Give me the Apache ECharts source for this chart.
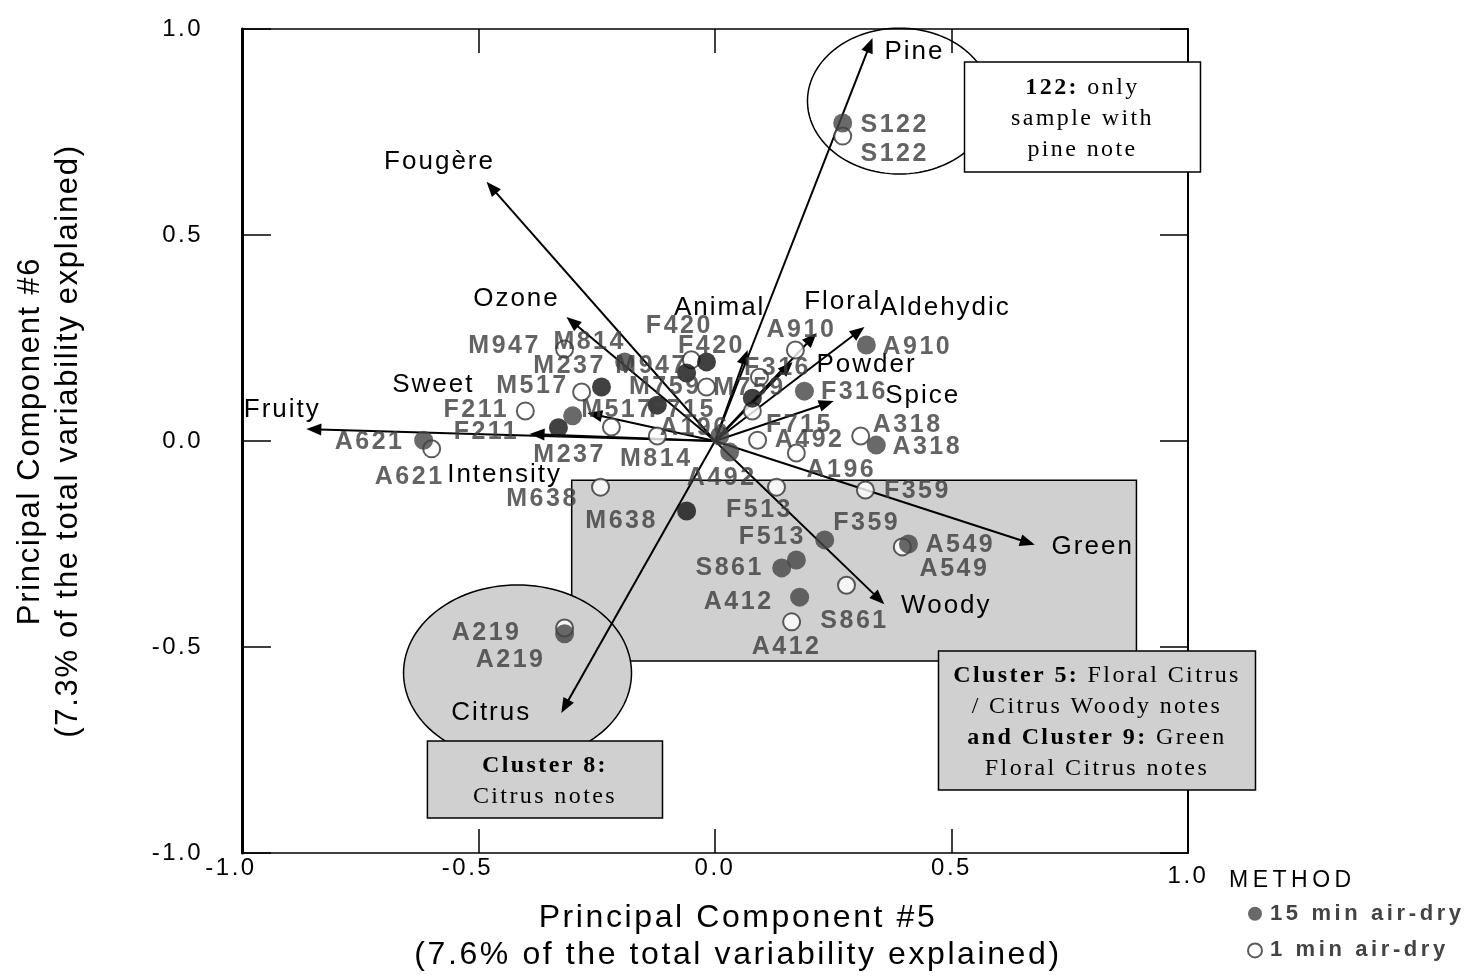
<!DOCTYPE html>
<html>
<head>
<meta charset="utf-8">
<title>PCA biplot – components 5 and 6</title>
<script src="https://cdn.jsdelivr.net/npm/echarts@6/dist/echarts.min.js"></script>
<style>
  html, body { margin: 0; padding: 0; background: #ffffff; }
  #chart { width: 1471px; height: 977px; }
</style>
</head>
<body>
<div id="chart"></div>
<script>
// ---------------------------------------------------------------
// Sample scores on principal components 5 and 6
// ---------------------------------------------------------------
const sampleIds = ['S122', 'A910', 'F316', 'A318', 'A621', 'M814', 'F420', 'M947', 'M517', 'M759', 'F715',
                   'M237', 'F211', 'A196', 'A492', 'M638', 'F359', 'F513', 'S861', 'A412', 'A549', 'A219'];

// 15 min air-dry
const pc5Dry15 = [0.270, 0.320, 0.189, 0.341, -0.616, -0.191, -0.018, -0.060, -0.240, -0.122, 0.079,
                  -0.301, -0.331, 0.010, 0.031, -0.060, 0.232, 0.172, 0.141, 0.179, 0.409, -0.318];
const pc6Dry15 = [0.772, 0.233, 0.121, -0.010, 0.002, 0.192, 0.192, 0.165, 0.131, 0.087, 0.104,
                  0.061, 0.032, 0.012, -0.027, -0.170, -0.240, -0.289, -0.308, -0.379, -0.250, -0.468];

// 1 min air-dry
const pc5Dry1 = [0.270, 0.170, 0.094, 0.308, -0.599, -0.122, -0.050, -0.318, -0.219, -0.018, 0.079,
                 -0.282, -0.401, 0.172, 0.090, -0.242, 0.318, 0.130, 0.278, 0.162, 0.396, -0.318];
const pc6Dry1 = [0.740, 0.221, 0.155, 0.012, -0.019, 0.012, 0.197, 0.223, 0.034, 0.131, 0.073,
                 0.119, 0.073, -0.029, 0.002, -0.112, -0.119, -0.112, -0.350, -0.439, -0.257, -0.454];

// Samples whose 15 min marker is printed in black
const blackFilled = ['F420', 'M947', 'M517', 'M759', 'F715', 'F211', 'M638'];

// Sensory attribute loadings (vectors drawn from the origin)
const attributeNames = ['Pine', 'Fougère', 'Ozone', 'Animal', 'Floral', 'Aldehydic', 'Powder',
                        'Spice', 'Fruity', 'Sweet', 'Intensity', 'Green', 'Woody', 'Citrus'];
const attributePC5 = [0.333, -0.483, -0.314, 0.069, 0.215, 0.316, 0.164, 0.251, -0.864, -0.270, -0.392, 0.676, 0.358, -0.325];
const attributePC6 = [0.978, 0.629, 0.301, 0.221, 0.262, 0.277, 0.192, 0.097, 0.029, 0.068, 0.017, -0.252, -0.396, -0.660];

// Axis ticks
const axisTicks = [-1.0, -0.5, 0.0, 0.5, 1.0];

// Series / legend names
const methodNames = ['15 min air-dry', '1 min air-dry'];

// ---------------------------------------------------------------
// Layout: label offsets (pixels, text centre relative to the mark)
// ---------------------------------------------------------------
const labelOffset15 = {
  S122: [52, 2], A910: [51, 2], F316: [50, 1], A318: [51, 2], A621: [-54, 2], M814: [-35, -20],
  F420: [5, -16], M947: [-35, -7], M517: [-69, -1], M759: [8, -18], F715: [-70, 12], M237: [-3, 39],
  F211: [-72, 4], A196: [-25, -8], A492: [-8, 26], M638: [-65, 10], F359: [42, -17], F513: [-24, -23],
  S861: [-52, 0], A412: [-61, 5], A549: [46, 25], A219: [-54, 26]
};
const labelOffset1 = {
  S122: [52, 18], A910: [6, -20], F316: [18, -9], A318: [47, -11], A621: [-22, 28], M814: [-1, 23],
  F420: [-12, -34], M947: [-60, -3], M517: [6, -17], M759: [43, 1], F715: [47, 14], M237: [-12, -26],
  F211: [-49, -1], A196: [45, 17], A492: [52, 0], M638: [-58, 12], F359: [52, 1], F513: [-17, 23],
  S861: [8, 36], A412: [-5, 25], A549: [58, -2], A219: [-78, 5]
};
const vectorLabelOffset = [
  [42, 14], [-47, -20], [-50, -18], [-28, -42], [26, -31], [81, -19], [74, 3],
  [89, -5], [-24, -19], [-154, -28], [-25, 41], [58, 2], [62, 2], [-70, 0]
];

// Highlighted regions and call-out boxes, in score units
const clusterRect = [[-0.303, -0.095, 0.891, -0.534]];
const clusterEllipses = [
  { centre: [-0.4175, -0.563], radii: [0.241, 0.2136], fill: '#d0d0d0' },
  { centre: [0.390, 0.825], radii: [0.1945, 0.177], fill: 'none' }
];
const callouts = [
  { box: [0.5275, 0.920, 1.0264, 0.653], fill: '#ffffff', dy: 2,
    text: '{b|122:} only\nsample with\npine note' },
  { box: [-0.608, -0.728, -0.111, -0.915], fill: '#d0d0d0', dy: 2,
    text: '{b|Cluster 8:}\nCitrus notes' },
  { box: [0.4725, -0.5097, 1.1427, -0.847], fill: '#d0d0d0', dy: 2,
    text: '{b|Cluster 5:} Floral Citrus\n/ Citrus Woody notes\n{b|and Cluster 9:} Green\nFloral Citrus notes' }
];

// ---------------------------------------------------------------
// Fonts and letter tracking (wide spacing of the printed labels)
// ---------------------------------------------------------------
const SANS = '"Liberation Sans", Arial, sans-serif';
const SERIF = '"Liberation Serif", "Times New Roman", serif';
const TRACKING = {
  'sans-24': '2.5px',       // tick labels
  'sans-26': '2px',         // attribute names
  'sans-32': '2.6px',       // x axis title
  'sans-31': '1.7px',       // y axis title
  'sans-23': '4.5px',       // legend heading
  'sans-bold-25': '2.5px',  // sample codes
  'sans-bold-22': '3.6px',  // legend entries
  'serif-24': '2.4px',
  'serif-bold-24': '2.4px'
};
function trackingFor(font) {
  const m = /(\d+(?:\.\d+)?)px/.exec(font || '');
  if (!m) return '0px';
  const serif = /Serif/.test(font) && !/Sans/.test(font);
  const bold = /bold|\b[6-9]00\b/.test(font);
  const key = (serif ? 'serif' : 'sans') + (bold ? '-bold-' : '-') + m[1];
  return TRACKING[key] || '0px';
}
(function installTracking() {
  const proto = CanvasRenderingContext2D.prototype;
  const desc = Object.getOwnPropertyDescriptor(proto, 'font');
  if (!desc || !('letterSpacing' in proto)) return;
  Object.defineProperty(proto, 'font', {
    configurable: true,
    enumerable: desc.enumerable,
    get() { return desc.get.call(this); },
    set(value) { desc.set.call(this, value); this.letterSpacing = trackingFor(value); }
  });
})();

// ---------------------------------------------------------------
// Chart
// ---------------------------------------------------------------
const chart = echarts.init(document.getElementById('chart'), null, { renderer: 'canvas' });

const LABEL_GREY = '#3c3c3c';
const MARK_GREY = '#444444';

function scatterData(pc5, pc6, offsets, filled) {
  return sampleIds.map((id, i) => {
    const item = {
      name: id,
      value: [pc5[i], pc6[i]],
      label: { offset: offsets[id] || [0, 0] }
    };
    if (filled) {
      item.itemStyle = { color: blackFilled.indexOf(id) >= 0 ? '#111111' : MARK_GREY };
    }
    return item;
  });
}

const sampleLabel = {
  show: true,
  position: 'inside',
  formatter: '{b}',
  fontFamily: SANS,
  fontSize: 25,
  fontWeight: 'bold',
  color: LABEL_GREY,
  align: 'center',
  verticalAlign: 'middle'
};

function ellipsePolygon(api, centre, radii) {
  const c = api.coord(centre);
  const s = api.size(radii);
  const pts = [];
  for (let k = 0; k < 120; k++) {
    const a = (k / 120) * Math.PI * 2;
    pts.push([c[0] + s[0] * Math.cos(a), c[1] + s[1] * Math.sin(a)]);
  }
  return pts;
}

function tickLabel(v) {
  const s = v.toFixed(1);
  if (v < 0) return '{n|' + s + '}';
  if (v === 1) return '{e|' + s + '}';
  return s;
}

const tickFont = { fontFamily: SANS, fontSize: 24, color: '#000' };

const option = {
  animation: false,
  backgroundColor: '#ffffff',
  grid: { left: 242, right: 283, top: 29, bottom: 124, containLabel: false },
  xAxis: [
    {
      type: 'value', position: 'bottom', min: axisTicks[0], max: axisTicks[axisTicks.length - 1],
      interval: axisTicks[1] - axisTicks[0],
      axisLine: { show: true, onZero: false, lineStyle: { color: '#000', width: 1.5 } },
      axisTick: { show: true, inside: true, length: 24, lineStyle: { color: '#000', width: 1.5 } },
      axisLabel: {
        show: true, margin: 2, formatter: tickLabel, ...tickFont,
        rich: {
          n: { ...tickFont, padding: [0, 22, 0, 0] },
          e: { ...tickFont, padding: [8, 0, 0, 0] }
        }
      },
      splitLine: { show: false }
    },
    {
      type: 'value', position: 'top', min: axisTicks[0], max: axisTicks[axisTicks.length - 1],
      interval: axisTicks[1] - axisTicks[0],
      axisLine: { show: true, onZero: false, lineStyle: { color: '#000', width: 1.5 } },
      axisTick: { show: true, inside: true, length: 24, lineStyle: { color: '#000', width: 1.5 } },
      axisLabel: { show: false },
      splitLine: { show: false }
    }
  ],
  yAxis: [
    {
      type: 'value', position: 'left', min: axisTicks[0], max: axisTicks[axisTicks.length - 1],
      interval: axisTicks[1] - axisTicks[0],
      axisLine: { show: true, onZero: false, lineStyle: { color: '#000', width: 3 } },
      axisTick: { show: true, inside: true, length: 29, lineStyle: { color: '#000', width: 1.5 } },
      axisLabel: {
        show: true, margin: 39, formatter: v => v.toFixed(1), ...tickFont, padding: [0, 0, 6, 0]
      },
      splitLine: { show: false }
    },
    {
      type: 'value', position: 'right', min: axisTicks[0], max: axisTicks[axisTicks.length - 1],
      interval: axisTicks[1] - axisTicks[0],
      axisLine: { show: true, onZero: false, lineStyle: { color: '#000', width: 2 } },
      axisTick: { show: true, inside: true, length: 28, lineStyle: { color: '#000', width: 1.5 } },
      axisLabel: { show: false },
      splitLine: { show: false }
    }
  ],
  legend: {
    orient: 'vertical',
    left: 1242,
    top: 896,
    itemWidth: 14,
    itemHeight: 14,
    itemGap: 11,
    selectedMode: false,
    data: [
      { name: methodNames[0], icon: 'circle' },
      { name: methodNames[1], icon: 'emptyCircle' }
    ],
    textStyle: { fontFamily: SANS, fontSize: 22, fontWeight: 'bold', color: '#444', padding: [0, 0, 0, 3] }
  },
  graphic: [
    { type: 'text', x: 738, y: 918, silent: true,
      style: { text: 'Principal Component #5', fontFamily: SANS, fontSize: 32, fill: '#000', align: 'center', verticalAlign: 'middle' } },
    { type: 'text', x: 738, y: 955, silent: true,
      style: { text: '(7.6% of the total variability explained)', fontFamily: SANS, fontSize: 32, fill: '#000', align: 'center', verticalAlign: 'middle' } },
    { type: 'text', x: 30, y: 441, rotation: Math.PI / 2, silent: true,
      style: { text: 'Principal Component #6', fontFamily: SANS, fontSize: 31, fill: '#000', align: 'center', verticalAlign: 'middle' } },
    { type: 'text', x: 68, y: 441, rotation: Math.PI / 2, silent: true,
      style: { text: '(7.3% of the total variability explained)', fontFamily: SANS, fontSize: 31, fill: '#000', align: 'center', verticalAlign: 'middle' } },
    { type: 'text', x: 1229, y: 881, silent: true,
      style: { text: 'METHOD', fontFamily: SANS, fontSize: 23, fill: '#000', align: 'left', verticalAlign: 'middle' } }
  ],
  series: [
    // shaded cluster rectangle
    {
      type: 'custom', name: 'cluster-rect', coordinateSystem: 'cartesian2d', z: 1, silent: true,
      data: clusterRect,
      renderItem(params, api) {
        const p0 = api.coord([api.value(0), api.value(1)]);
        const p1 = api.coord([api.value(2), api.value(3)]);
        return {
          type: 'rect',
          shape: { x: Math.min(p0[0], p1[0]), y: Math.min(p0[1], p1[1]),
                   width: Math.abs(p1[0] - p0[0]), height: Math.abs(p1[1] - p0[1]) },
          style: { fill: '#d0d0d0', stroke: '#000', lineWidth: 1.5 }
        };
      }
    },
    // cluster ellipses
    {
      type: 'custom', name: 'cluster-ellipse', coordinateSystem: 'cartesian2d', z: 1, silent: true,
      data: clusterEllipses.map(e => e.centre),
      renderItem(params, api) {
        const e = clusterEllipses[params.dataIndex];
        return {
          type: 'polygon',
          shape: { points: ellipsePolygon(api, e.centre, e.radii) },
          style: { fill: e.fill, stroke: '#000', lineWidth: 1.5 }
        };
      }
    },
    // attribute vectors
    {
      type: 'custom', name: 'attributes', coordinateSystem: 'cartesian2d', z: 2, silent: true,
      data: attributeNames.map((n, i) => [attributePC5[i], attributePC6[i]]),
      renderItem(params, api) {
        const i = params.dataIndex;
        const o = api.coord([0, 0]);
        const t = api.coord([api.value(0), api.value(1)]);
        const dx = t[0] - o[0], dy = t[1] - o[1];
        const len = Math.sqrt(dx * dx + dy * dy);
        const ux = dx / len, uy = dy / len;
        const headL = 15, headW = 6;
        const bx = t[0] - ux * headL, by = t[1] - uy * headL;
        const off = vectorLabelOffset[i];
        return {
          type: 'group',
          children: [
            { type: 'line', shape: { x1: o[0], y1: o[1], x2: bx + ux * 2, y2: by + uy * 2 },
              style: { stroke: '#000', lineWidth: 2 } },
            { type: 'polygon',
              shape: { points: [[t[0], t[1]], [bx - uy * headW, by + ux * headW], [bx + uy * headW, by - ux * headW]] },
              style: { fill: '#000' } },
            { type: 'text', x: t[0] + off[0], y: t[1] + off[1],
              style: { text: attributeNames[i], fontFamily: SANS, fontSize: 26, fill: '#000',
                       align: 'center', verticalAlign: 'middle' } }
          ]
        };
      }
    },
    // 1 min air-dry (open markers)
    {
      type: 'scatter', name: methodNames[1], z: 3,
      symbol: 'emptyCircle', symbolSize: 17,
      itemStyle: { color: '#333', borderColor: '#333', borderWidth: 2.5 },
      label: sampleLabel,
      data: scatterData(pc5Dry1, pc6Dry1, labelOffset1, false)
    },
    // 15 min air-dry (filled markers)
    {
      type: 'scatter', name: methodNames[0], z: 3,
      symbol: 'circle', symbolSize: 19,
      itemStyle: { color: MARK_GREY },
      label: sampleLabel,
      data: scatterData(pc5Dry15, pc6Dry15, labelOffset15, true)
    },
    // call-out boxes
    {
      type: 'custom', name: 'callouts', coordinateSystem: 'cartesian2d', z: 6, silent: true, clip: false,
      data: callouts.map(c => c.box),
      renderItem(params, api) {
        const c = callouts[params.dataIndex];
        const p0 = api.coord([api.value(0), api.value(1)]);
        const p1 = api.coord([api.value(2), api.value(3)]);
        const x = Math.min(p0[0], p1[0]), y = Math.min(p0[1], p1[1]);
        const w = Math.abs(p1[0] - p0[0]), h = Math.abs(p1[1] - p0[1]);
        return {
          type: 'group',
          children: [
            { type: 'rect', shape: { x: x, y: y, width: w, height: h },
              style: { fill: c.fill, stroke: '#000', lineWidth: 1.5 } },
            { type: 'text', x: x + w / 2, y: y + h / 2 + c.dy,
              style: {
                text: c.text, fontFamily: SERIF, fontSize: 24, fill: '#000', lineHeight: 31,
                align: 'center', verticalAlign: 'middle',
                rich: { b: { fontFamily: SERIF, fontSize: 24, fontWeight: 'bold', fill: '#000', lineHeight: 31 } }
              } }
          ]
        };
      }
    }
  ]
};

chart.setOption(option);
</script>
</body>
</html>
